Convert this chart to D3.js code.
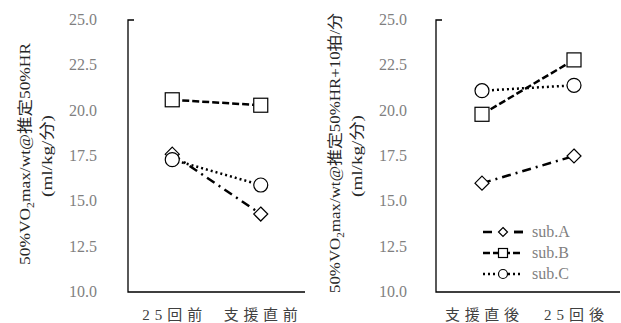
<!DOCTYPE html>
<html><head><meta charset="utf-8">
<script src="https://cdn.jsdelivr.net/npm/d3@7"></script>
<style>body{margin:0;background:#fff}svg{display:block}</style>
</head><body>
<svg id="c" width="621" height="323"></svg>
<script>
const leftCategories = ["25回前", "支援直前"];
const rightCategories = ["支援直後", "25回後"];
const seriesNames = ["sub.A", "sub.B", "sub.C"];
const leftA = [17.6, 14.3];
const leftB = [20.6, 20.3];
const leftC = [17.3, 15.9];
const rightA = [16.0, 17.5];
const rightB = [19.8, 22.8];
const rightC = [21.1, 21.4];
const yTicks = [10.0, 12.5, 15.0, 17.5, 20.0, 22.5, 25.0];

const svg = d3.select("#c");
const serif = "Liberation Serif, Times New Roman, Tinos, DejaVu Serif, Noto Sans CJK JP, serif";
const styles = [
  {dash: "9,5,2,5", shape: "diamond"},
  {dash: "7,3", shape: "square"},
  {dash: "2,3", shape: "circle"}
];

function marker(g, shape, x, y, s) {
  if (shape === "diamond") {
    g.append("path").attr("d", `M${x},${y - s}L${x + s},${y}L${x},${y + s}L${x - s},${y}Z`)
      .attr("fill", "#fff").attr("stroke", "#000").attr("stroke-width", 1.2);
  } else if (shape === "square") {
    g.append("rect").attr("x", x - s).attr("y", y - s).attr("width", 2 * s).attr("height", 2 * s)
      .attr("fill", "#fff").attr("stroke", "#000").attr("stroke-width", 1.2);
  } else {
    g.append("circle").attr("cx", x).attr("cy", y).attr("r", s)
      .attr("fill", "#fff").attr("stroke", "#000").attr("stroke-width", 1.2);
  }
}

function panel(opts) {
  const g = svg.append("g");
  const x = d3.scaleBand().domain(opts.cats).range([opts.x0, opts.x1]);
  const y = d3.scaleLinear().domain([10, 25]).range([292, 20]);
  g.selectAll(".yt").data(yTicks).enter().append("text")
    .attr("x", opts.x0 - opts.lblOff).attr("y", d => y(d) + 5)
    .attr("text-anchor", "end").attr("font-family", serif).attr("font-size", 16)
    .attr("fill", "#7f7f7f").text(d => d.toFixed(1));
  g.append("path").attr("d", `M${opts.x0 + 6},${y(25)}H${opts.x0}V${y(10)}H${opts.x1}`)
    .attr("fill", "none").attr("stroke", "#000").attr("stroke-width", 1.3);
  opts.cats.forEach((c, k) => {
    g.append("text").attr("x", x(c) + x.bandwidth() / 2).attr("y", 320)
      .attr("text-anchor", "middle").attr("font-family", serif).attr("font-size", 15)
      .attr("fill", "#404040").attr("textLength", opts.xLens[k]).attr("lengthAdjust", "spacing").text(c);
  });
  const t = g.append("text").attr("transform", `translate(${opts.tx1},${opts.tcy}) rotate(-90)`)
    .attr("text-anchor", "middle").attr("font-family", serif).attr("font-size", 15).attr("fill", "#262626")
    .attr("textLength", opts.tLen).attr("lengthAdjust", "spacingAndGlyphs");
  t.append("tspan").text("50%VO");
  t.append("tspan").attr("font-size", 10).attr("dy", 4).text("2");
  t.append("tspan").attr("dy", -4).text(opts.title);
  g.append("text").attr("transform", `translate(${opts.tx2},${opts.tcy2}) rotate(-90)`)
    .attr("text-anchor", "middle").attr("font-family", serif).attr("font-size", 15).attr("fill", "#262626")
    .attr("textLength", 82).attr("lengthAdjust", "spacingAndGlyphs")
    .text("(ml/kg/分)");
  opts.data.forEach((vals, i) => {
    const pts = vals.map((v, j) => [x(opts.cats[j]) + x.bandwidth() / 2, y(v)]);
    g.append("path").attr("d", d3.line()(pts)).attr("fill", "none").attr("stroke", "#000")
      .attr("stroke-width", 2.5).attr("stroke-dasharray", styles[i].dash);
  });
  opts.data.forEach((vals, i) => {
    vals.forEach((v, j) => {
      marker(g, styles[i].shape, x(opts.cats[j]) + x.bandwidth() / 2, y(v), 7);
    });
  });
}

panel({cats: leftCategories, x0: 128, x1: 305, lblOff: 31, data: [leftA, leftB, leftC],
  title: "max/wt@推定50%HR", tx1: 30, tx2: 52, tcy: 154, tcy2: 156, tLen: 222, xLens: [60, 74]});
panel({cats: rightCategories, x0: 436, x1: 620, lblOff: 29, data: [rightA, rightB, rightC],
  title: "max/wt@推定50%HR+10拍/分", tx1: 340, tx2: 362, tcy: 153, tcy2: 156, tLen: 280, xLens: [74, 60]});

const lg = svg.append("g");
seriesNames.forEach((n, i) => {
  const ly = 232 + i * 21;
  lg.append("path").attr("d", `M483,${ly}H523`).attr("stroke", "#000").attr("stroke-width", 2.5)
    .attr("stroke-dasharray", i === 0 ? "9,22" : styles[i].dash).attr("fill", "none");
  if (i === 0) lg.append("path").attr("d", `M514,${ly}H523`).attr("stroke", "#000").attr("stroke-width", 2.5);
  marker(lg, styles[i].shape, 503, ly, 4.5);
  lg.append("text").attr("x", 532).attr("y", ly + 5).attr("font-family", serif).attr("font-size", 16)
    .attr("fill", "#7f7f7f").text(n);
});
</script>
</body></html>
